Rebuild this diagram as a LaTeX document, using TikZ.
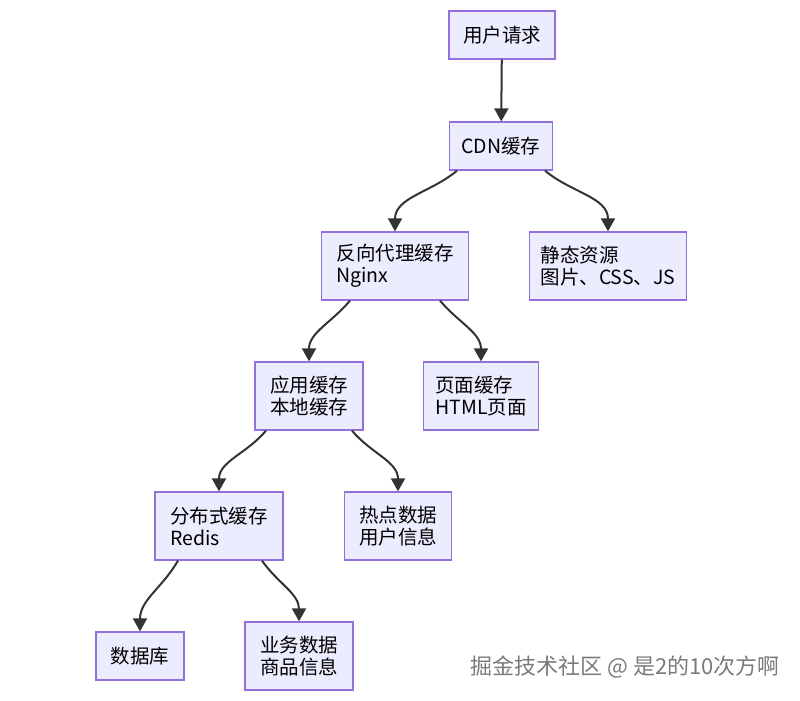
\documentclass[tikz,border=0pt]{standalone}
\usepackage{fontspec}
\setmainfont{Noto Sans CJK SC}
\usetikzlibrary{arrows.meta}
\definecolor{boxfill}{HTML}{ECECFF}
\definecolor{boxline}{HTML}{9370DB}
\definecolor{linkcol}{HTML}{333333}
\definecolor{markcol}{HTML}{7A7A7A}
\tikzset{
  cache/.style={draw=boxline, fill=boxfill, line width=1.3pt, align=left,
    font=\fontsize{19.5}{22}\selectfont, inner sep=0pt},
  link/.style={draw=linkcol, line width=2pt,
    -{Triangle[length=13pt,width=14pt]}}
}
% box: name, x, y, width, height, text
\newcommand{\cachebox}[6]{
  \node[cache, minimum width=#4pt, minimum height=#5pt] (#1) at (#2, -#3) {#6};
}

\begin{document}
\begin{tikzpicture}[x=1pt, y=1pt]
  \useasboundingbox (0, 0) rectangle (800, -701);
  \cachebox{req}{502}{35}{106}{48}{用户请求}
  \cachebox{cdn}{501}{146}{103}{48}{CDN缓存}
  \cachebox{nginx}{395}{266}{147}{68}{反向代理缓存\\Nginx}
  \cachebox{static}{608}{266}{157}{68}{静态资源\\图片、CSS、JS}
  \cachebox{app}{309}{396}{108}{68}{应用缓存\\本地缓存}
  \cachebox{page}{481}{396}{115}{68}{页面缓存\\HTML页面}
  \cachebox{redis}{219}{526}{128}{68}{分布式缓存\\Redis}
  \cachebox{hot}{398}{526}{107}{68}{热点数据\\用户信息}
  \cachebox{db}{140}{656}{88}{48}{数据库}
  \cachebox{biz}{299}{656}{108}{68}{业务数据\\商品信息}

  \draw[link] (req) -- (cdn);
  \foreach \from/\to/\dx/\ang in {cdn/nginx/-44/-140, cdn/static/44/-40,
      nginx/app/-45/-130, nginx/page/45/-50,
      app/redis/-43/-130, app/hot/43/-50,
      redis/db/-41/-120, redis/biz/43/-55}
    \draw[link] ([xshift=\dx pt]\from.south) to[out=\ang, in=90] (\to.north);

  \node[text=markcol, font=\fontsize{22}{24}\selectfont] (mark) at (625, -667)
    {掘金技术社区 @ 是2的10次方啊};
\end{tikzpicture}
\end{document}
